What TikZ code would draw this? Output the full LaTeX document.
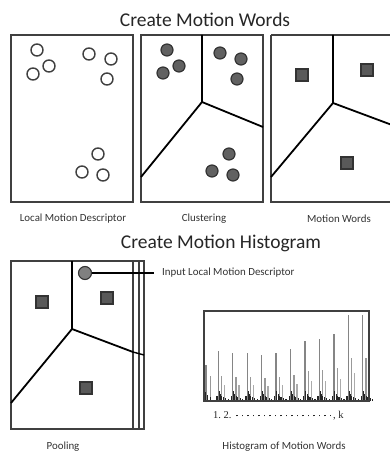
\documentclass[tikz,border=0pt]{standalone}
\usepackage{fontspec}
\setmainfont{Carlito}
\newfontfamily\seriffont{Liberation Serif}
\begin{document}
\begin{tikzpicture}[x=1pt,y=-1pt,
  panel/.style={draw=black!75,line width=1.4pt},
  vor/.style={draw=black,line width=1.8pt},
  opencirc/.style={circle,draw=black!75,line width=1.4pt,fill=white,minimum size=12pt,inner sep=0pt},
  fullcirc/.style={circle,draw=black!80,line width=1.2pt,fill=black!62,minimum size=12pt,inner sep=0pt},
  word/.style={rectangle,draw=black!80,line width=1.1pt,fill=black!65,minimum size=12pt,inner sep=0pt},
  title/.style={font=\fontsize{19.5}{21}\selectfont,text=black!85,inner sep=0pt},
  label/.style={font=\fontsize{10.9}{12}\selectfont,text=black!80,inner sep=0pt},
  tallbar/.style={draw=black!48,line width=1.3pt},
  midbar/.style={draw=black!40,line width=1.4pt},
  lowbar/.style={draw=black!33,line width=1.4pt},
  darkbar/.style={draw=black!85,line width=1.1pt}]
\useasboundingbox (0,0) rectangle (390,452);
\fill[white] (0,0) rectangle (390,452);

% ---- titles
\node[title] (t1) at (205,20) {Create Motion Words};
\node[title] (t2) at (221,243) {Create Motion Histogram};

% ---- panel 1: local motion descriptors
\draw[panel] (11,35) rectangle (133,202);
\foreach \n/\x/\y in {a/37/50, b/49/66, c/33/74, d/89/54, e/111/59, f/107/79, g/98/154, h/82/172, i/103/175}
  \node[opencirc] (p1\n) at (\x,\y) {};
\node[label] (l1) at (73,219) {Local Motion Descriptor};

% ---- panel 2: clustering
\draw[panel] (141,35) rectangle (263,202);
\coordinate (c2) at (202,102);
\draw[vor] (202,35) -- (c2) -- (263,127);
\draw[vor] (c2) -- (141,177);
\foreach \n/\x/\y in {a/167/50, b/179/66, c/163/73, d/220/53, e/241/59, f/237/79, g/229/154, h/212/171, i/233/175}
  \node[fullcirc] (p2\n) at (\x,\y) {};
\node[label] (l2) at (204,219) {Clustering};

% ---- panel 3: motion words
\draw[panel] (271,35) -- (392,35) (271,35) -- (271,202) -- (392,202);
\coordinate (c3) at (333,103);
\draw[vor] (333,35) -- (c3) -- (392,125);
\draw[vor] (c3) -- (271,177);
\node[word] (w1) at (302,75) {};
\node[word] (w2) at (367,70) {};
\node[word] (w3) at (347,163) {};
\node[label] (l3) at (339,219) {Motion Words};

% ---- pooling
\draw[panel,line width=1.1pt] (11,261) rectangle (144,429);
\draw[panel,line width=1.1pt] (133,261) -- (133,429) (139,261) -- (139,429);
\coordinate (c4) at (72,329);
\draw[vor] (72,261) -- (c4) -- (133,352);
\draw[vor,line width=1.4pt] (133,352) -- (144,355);
\draw[vor] (c4) -- (11,403);
\node[word] (w4) at (42,302) {};
\node[word] (w5) at (107,298) {};
\node[word] (w6) at (86,388) {};
\node[circle,draw=black!80,line width=1.1pt,fill=black!50,minimum size=13pt,inner sep=0pt] (inp) at (85,273) {};
\node[label,anchor=west] (inl) at (162,273) {Input Local Motion Descriptor};
\coordinate (inend) at (154,273);
\draw[draw=black,line width=1.5pt] (inp.east) -- (inend);
\node[label] (l4) at (63,447) {Pooling};

% ---- histogram
\foreach \x/\t in {218.3/351, 232.7/353.3, 247.3/353.3, 261.7/355, 276/353.3, 290.7/348.7, 305/341, 319.3/339, 334/334, 348.3/315, 362.7/315} {
  \pgfmathsetmacro\h{401-\t}
  \draw[tallbar] (\x,401) -- (\x,\t);
  \draw[midbar] (\x+3.3,401) -- ++(0,-0.5*\h);
  \draw[lowbar] (\x+6.3,401) -- ++(0,-0.33*\h);
  \draw[darkbar] (\x-1.3,401) -- ++(0,-5);
  \draw[darkbar] (\x+0.8,401) -- ++(0,-10);
  \draw[darkbar] (\x+2.2,401) -- ++(0,-7);
  \draw[darkbar] (\x+3.6,401) -- ++(0,-5);
  \draw[darkbar] (\x+5,401) -- ++(0,-4);
  \draw[darkbar] (\x+7.6,401) -- ++(0,-3);
  \draw[darkbar] (\x+10,401) -- ++(0,-2);
}
\draw[tallbar] (206,401) -- (206,365);
\draw[midbar] (210.5,401) -- (210.5,376);
\draw[darkbar] (205.5,401) -- ++(0,-9);
\draw[darkbar] (207.5,401) -- ++(0,-6);
\draw[darkbar] (210.5,401) -- ++(0,-4);
\draw[panel,line width=1.3pt] (204,311) rectangle (369,401);
\node[font=\seriffont\fontsize{10.5}{12}\selectfont,text=black!85,inner sep=0pt,anchor=west] (axis) at (213,416)
  {1.\ 2.\ \hbox to 99pt{\xleaders\hbox to 5.5pt{\hss\raisebox{0.5ex}{\rule{1.4pt}{1.4pt}}\hss}\hfill}, k};
\node[label] (l5) at (284,447) {Histogram of Motion Words};
\end{tikzpicture}
\end{document}
